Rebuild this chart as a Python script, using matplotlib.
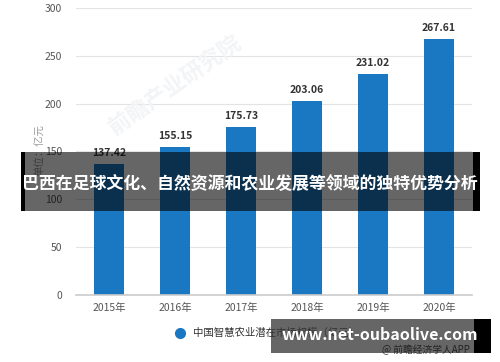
import matplotlib
matplotlib.use("Agg")
import matplotlib.pyplot as plt
from matplotlib.patches import Rectangle
from matplotlib.lines import Line2D

plt.rcParams['font.family'] = ['Noto Sans CJK SC', 'DejaVu Sans']

# 数据
years = ["2015年", "2016年", "2017年", "2018年", "2019年", "2020年"]
values = [137.42, 155.15, 175.73, 203.06, 231.02, 267.61]
yticks = [0, 50, 100, 150, 200, 250, 300]
series_name = "中国智慧农业潜在市场规模（亿元）"
title = "巴西在足球文化、自然资源和农业发展等领域的独特优势分析"
site = "www.net-oubaolive.com"

W, H = 500, 362
fig = plt.figure(figsize=(W / 100, H / 100), dpi=100)
fig.patch.set_facecolor("white")

ax = fig.add_axes([76 / W, 67 / H, 396 / W, 287 / H])
x = range(len(years))
ax.bar(x, values, width=0.46, color="#1a78c2", zorder=2)
for xi, v in zip(x, values):
    ax.text(xi, v + 6, f"{v:.2f}", ha="center", va="bottom",
            fontsize=7.5, color="#333333", fontweight="bold")

ax.set_xlim(-0.5, len(years) - 0.5)
ax.set_ylim(0, 300)
ax.set_yticks(yticks)
ax.set_xticks(list(x))
ax.set_xticklabels(years)
ax.tick_params(axis="both", length=0, labelsize=7.5, colors="#555555")
ax.tick_params(axis="y", pad=10)
ax.tick_params(axis="x", pad=6)
ax.grid(axis="y", color="#e3e3e3", linewidth=0.8, zorder=0)
for s in ["top", "right", "left"]:
    ax.spines[s].set_visible(False)
ax.spines["bottom"].set_color("#cccccc")
ax.spines["bottom"].set_linewidth(1.2)

# 单位
fig.text(40 / W, 1 - 150 / H, "单位：亿元", rotation=90, ha="center", va="center",
         fontsize=7.5, color="#999999")

# 淡水印
fig.text(175 / W, 1 - 85 / H, "前瞻产业研究院", rotation=35, ha="center", va="center",
         fontsize=16, color="#f2f4f6", fontweight="bold", zorder=0)

# 图例
handle = Line2D([], [], marker="o", linestyle="none", markersize=7,
                markerfacecolor="#1a78c2", markeredgecolor="#1a78c2")
fig.legend([handle], [series_name], loc="center left",
           bbox_to_anchor=(160 / W, 1 - 333 / H), frameon=False,
           fontsize=7.5, handletextpad=0.3, labelcolor="#333333")

fig.text(470 / W, 1 - 350 / H, "@ 前瞻经济学人APP", ha="right", va="center",
         fontsize=7, color="#555555")

# 标题横幅
fig.add_artist(Rectangle((21 / W, 1 - 211 / H), 459 / W, 59 / H,
                         transform=fig.transFigure, facecolor="black",
                         alpha=0.6, edgecolor="none", zorder=5))
fig.add_artist(Rectangle((21 / W, 1 - 211 / H), 4 / W, 59 / H,
                         transform=fig.transFigure, facecolor="black",
                         edgecolor="none", zorder=5))
fig.add_artist(Rectangle((473 / W, 1 - 211 / H), 7 / W, 59 / H,
                         transform=fig.transFigure, facecolor="black",
                         edgecolor="none", zorder=5))
fig.text(250 / W, 1 - 184 / H, title, ha="center", va="center",
         fontsize=12.2, color="white", fontweight="bold", zorder=6)

# 网址横幅
fig.add_artist(Rectangle((271 / W, 1 - 353 / H), 220 / W, 34 / H,
                         transform=fig.transFigure, facecolor="black",
                         alpha=0.6, edgecolor="none", zorder=5))
fig.add_artist(Rectangle((474 / W, 1 - 353 / H), 17 / W, 34 / H,
                         transform=fig.transFigure, facecolor="black",
                         edgecolor="none", zorder=5))
fig.text(380 / W, 1 - 335 / H, site, ha="center", va="center",
         fontsize=11.5, color="white", fontweight="bold", zorder=6)

fig.savefig("out.png", dpi=100)
